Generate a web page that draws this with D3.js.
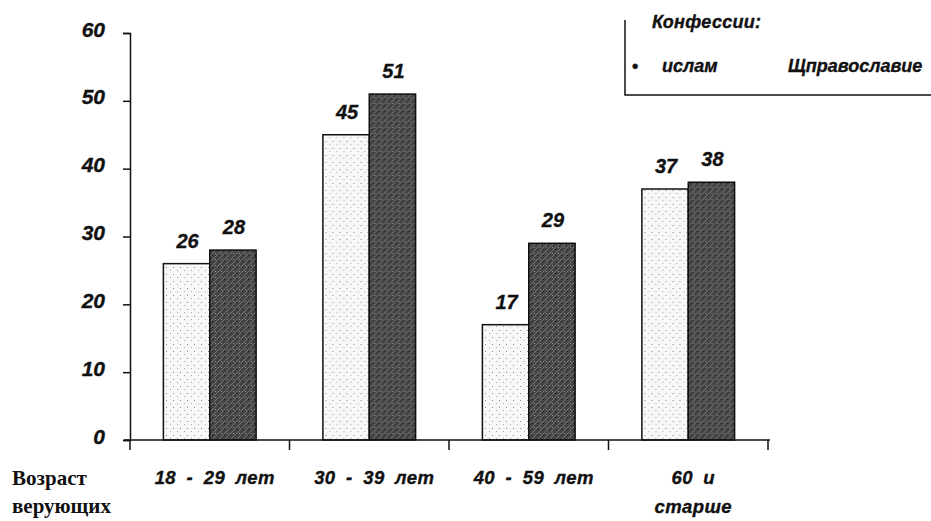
<!DOCTYPE html>
<meta charset="utf-8">
<script src="https://d3js.org/d3.v7.min.js"></script>
<style>
  body { margin: 0; background: #fff; font-family: Arial, 'Liberation Sans', sans-serif; }
  text { font-weight: bold; font-style: italic; fill: #111; stroke: #111; stroke-width: 0.35px; }
</style>
<div id="chart"></div>
<script>
  var categories = ["18 - 29 лет", "30 - 39 лет", "40 - 59 лет", "60 и|старше"];
  var series = ["ислам", "православие"];
  var islam = [26, 45, 17, 37];
  var orthodoxy = [28, 51, 29, 38];
  var yTicks = [0, 10, 20, 30, 40, 50, 60];

  var W = 931, H = 521;
  var svg = d3.select("#chart").append("svg")
      .attr("width", W).attr("height", H);

  // fills that imitate the scanned halftone
  var defs = svg.append("defs");
  var light = defs.append("pattern").attr("id", "light")
      .attr("width", 7).attr("height", 7).attr("patternUnits", "userSpaceOnUse");
  light.append("rect").attr("width", 7).attr("height", 7).attr("fill", "#f7f7f7");
  light.append("rect").attr("x", 1).attr("y", 1).attr("width", 1).attr("height", 1).attr("fill", "#888");
  light.append("rect").attr("x", 5).attr("y", 4).attr("width", 1).attr("height", 1).attr("fill", "#aaa");
  var dark = defs.append("pattern").attr("id", "dark")
      .attr("width", 6).attr("height", 6).attr("patternUnits", "userSpaceOnUse");
  dark.append("rect").attr("width", 6).attr("height", 6).attr("fill", "#444");
  dark.append("path").attr("d", "M0,6 L6,0").attr("stroke", "#777").attr("stroke-width", 1);
  dark.append("rect").attr("x", 1).attr("y", 1).attr("width", 1).attr("height", 1).attr("fill", "#999");
  dark.append("rect").attr("x", 4).attr("y", 3).attr("width", 1).attr("height", 1).attr("fill", "#222");

  var x = d3.scaleBand().domain(categories).range([130, 768]).paddingInner(0).paddingOuter(0);
  var xs = d3.scaleBand().domain(series).range([0, x.bandwidth()]).paddingInner(0).paddingOuter(0.72);
  var y = d3.scaleLinear().domain([0, 60]).range([440, 33]);

  // y axis
  var yAxis = svg.append("g").attr("transform", "translate(130,0)")
      .call(d3.axisLeft(y).tickValues(yTicks).tickSize(7).tickPadding(18));
  yAxis.select(".domain").attr("stroke", "#111").attr("stroke-width", 1.5);
  yAxis.selectAll(".tick line").attr("stroke", "#111").attr("stroke-width", 1.5);
  yAxis.selectAll(".tick text").style("font-size", "21px").style("font-family", "Arial")
      .attr("dy", "0.15em").attr("fill", "#111");

  var rows = categories.map(function (c, i) {
    return [{ c: c, s: series[0], v: islam[i] }, { c: c, s: series[1], v: orthodoxy[i] }];
  });

  var g = svg.append("g").selectAll("g").data(rows).enter().append("g")
      .attr("transform", function (d) { return "translate(" + x(d[0].c) + ",0)"; });
  g.selectAll("rect").data(function (d) { return d; }).enter().append("rect")
      .attr("x", function (d) { return xs(d.s); })
      .attr("y", function (d) { return y(d.v); })
      .attr("width", xs.bandwidth())
      .attr("height", function (d) { return y(0) - y(d.v); })
      .attr("fill", function (d) { return d.s === series[0] ? "url(#light)" : "url(#dark)"; })
      .attr("stroke", "#111").attr("stroke-width", 1.5);
  g.selectAll("text").data(function (d) { return d; }).enter().append("text")
      .attr("x", function (d) { return xs(d.s) + xs.bandwidth() / 2 + 1; })
      .attr("y", function (d) { return y(d.v) - 16; })
      .attr("text-anchor", "middle")
      .style("font-size", "20px")
      .text(function (d) { return d.v; });

  // x axis with ticks at group boundaries
  var xAxis = svg.append("g").attr("transform", "translate(0,440)");
  xAxis.append("line").attr("x1", 124).attr("x2", 770).attr("stroke", "#111").attr("stroke-width", 1.5);
  xAxis.selectAll("line.t").data(categories).enter().append("line").attr("class", "t")
      .attr("x1", function (d) { return x(d) + x.bandwidth(); })
      .attr("x2", function (d) { return x(d) + x.bandwidth(); })
      .attr("y1", 0).attr("y2", 10).attr("stroke", "#111").attr("stroke-width", 1.5);
  xAxis.append("line").attr("x1", 130).attr("x2", 130).attr("y1", 0).attr("y2", 10)
      .attr("stroke", "#111").attr("stroke-width", 1.5);

  svg.append("g").selectAll("text").data(categories).enter().append("text")
      .attr("x", function (d) { return x(d) + x.bandwidth() / 2 + 5; })
      .attr("y", 484)
      .attr("text-anchor", "middle")
      .style("font-size", "18.5px")
      .style("letter-spacing", "0.4px")
      .style("word-spacing", "5px")
      .each(function (d) {
        var parts = d.split("|");
        var t = d3.select(this);
        parts.forEach(function (p, i) {
          t.append("tspan").attr("x", t.attr("x")).attr("dy", i ? 29 : 0).text(p);
        });
      });

  svg.append("text").attr("x", 12).attr("y", 485)
      .style("font-family", "'Liberation Serif', 'Times New Roman', serif")
      .style("font-style", "normal").style("stroke-width", "0").style("font-size", "21px").text("Возраст");
  svg.append("text").attr("x", 12).attr("y", 513)
      .style("font-family", "'Liberation Serif', 'Times New Roman', serif")
      .style("font-style", "normal").style("stroke-width", "0").style("font-size", "21px").text("верующих");

  // legend
  var lg = svg.append("g");
  lg.append("path").attr("d", "M625,20 V95 H931").attr("fill", "none")
      .attr("stroke", "#111").attr("stroke-width", 1.5);
  lg.append("text").attr("x", 652).attr("y", 28).style("font-size", "18px")
      .style("letter-spacing", "0.3px").text("Конфессии:");
  lg.append("text").attr("x", 632).attr("y", 72).style("font-size", "18px").style("font-style", "normal").text("•");
  lg.append("text").attr("x", 662).attr("y", 72).style("font-size", "18px").text(series[0]);
  lg.append("text").attr("x", 788).attr("y", 72).style("font-size", "18px").text("Щ" + series[1]);
</script>
